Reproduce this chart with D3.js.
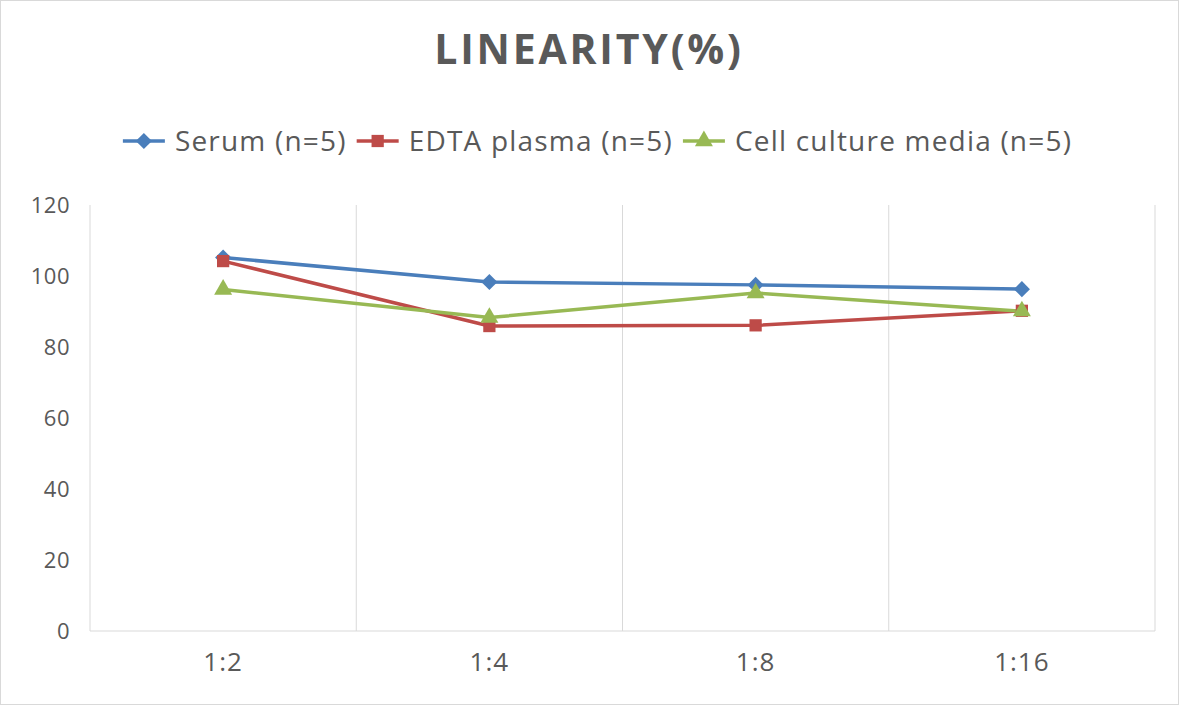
<!DOCTYPE html>
<html><head><meta charset="utf-8">
<script src="https://cdn.jsdelivr.net/npm/d3@7"></script>
<style>body{margin:0;background:#fff}svg{display:block}text{font-family:"Open Sans","Noto Sans",sans-serif}</style>
</head><body>
<svg id="c" width="1179" height="705"></svg>
<script>
const categories = ["1:2","1:4","1:8","1:16"];
const serum = [105.2, 98.3, 97.5, 96.3];
const edta = [104.2, 85.9, 86.1, 90.2];
const cellCulture = [96.2, 88.3, 95.2, 90.1];
const seriesNames = ["Serum (n=5)","EDTA plasma (n=5)","Cell culture media (n=5)"];
const yTicks = [0,20,40,60,80,100,120];

const svg = d3.select("#c");
const W=1179,H=705;
const m={l:90,r:1155,t:205,b:631};
svg.append("rect").attr("x",0.5).attr("y",0.5).attr("width",W-1).attr("height",H-1).attr("fill","#fff").attr("stroke","#d9d9d9");

const x = d3.scaleBand().domain(categories).range([m.l,m.r]);
const y = d3.scaleLinear().domain([0,120]).range([m.b,m.t]);

const bounds = categories.map(c=>x(c)).concat([m.r]);
svg.append("g").selectAll("line").data(bounds).join("line")
 .attr("x1",d=>d).attr("x2",d=>d).attr("y1",m.t).attr("y2",m.b)
 .attr("stroke","#d9d9d9").attr("stroke-width",1);
svg.append("line").attr("x1",m.l).attr("x2",m.r).attr("y1",m.b).attr("y2",m.b).attr("stroke","#d9d9d9");

const ya = d3.axisLeft(y).tickValues(yTicks).tickSize(0).tickPadding(20);
const gy = svg.append("g").attr("transform",`translate(${m.l},0)`).call(ya);
gy.select(".domain").remove();
gy.selectAll("text").attr("font-size",22).attr("fill","#595959").attr("letter-spacing",0.5);

const xa = d3.axisBottom(x).tickSize(0).tickPadding(22);
const gx = svg.append("g").attr("transform",`translate(0,${m.b})`).call(xa);
gx.select(".domain").remove();
gx.selectAll("text").attr("font-size",26).attr("fill","#595959").attr("letter-spacing",1);

svg.append("text").attr("x",589).attr("y",64).attr("text-anchor","middle")
 .attr("font-size",41).attr("font-weight","bold").attr("fill","#595959").attr("letter-spacing",2.8).text("LINEARITY(%)");

const colors = ["#4a7ebb","#be4b48","#98b954"];
const data = [serum, edta, cellCulture];
const diamond = { draw(ctx, size){ const r=Math.sqrt(size/2); ctx.moveTo(0,-r); ctx.lineTo(r,0); ctx.lineTo(0,r); ctx.lineTo(-r,0); ctx.closePath(); } };
const symbols = [diamond, d3.symbolSquare, d3.symbolTriangle];
const sizes = [130, 150, 140];

const line = d3.line().x((d,i)=>x(categories[i])+x.bandwidth()/2).y(d=>y(d));
data.forEach((s,k)=>{
  svg.append("path").datum(s).attr("d",line).attr("fill","none")
   .attr("stroke",colors[k]).attr("stroke-width",3.5).attr("stroke-linejoin","round");
});
data.forEach((s,k)=>{
  svg.append("g").selectAll("path").data(s).join("path")
   .attr("transform",(d,i)=>`translate(${x(categories[i])+x.bandwidth()/2},${y(d)})`)
   .attr("d",d3.symbol().type(symbols[k]).size(sizes[k])).attr("fill",colors[k]);
});

const lg = svg.append("g");
let lx = 0;
seriesNames.forEach((n,k)=>{
  const g = lg.append("g").attr("transform",`translate(${lx},0)`);
  g.append("line").attr("x1",0).attr("x2",42).attr("y1",0).attr("y2",0).attr("stroke",colors[k]).attr("stroke-width",3.5);
  g.append("path").attr("transform","translate(21,0)").attr("d",d3.symbol().type(symbols[k]).size(sizes[k])).attr("fill",colors[k]);
  const t = g.append("text").attr("x",52).attr("y",10).attr("font-size",28).attr("letter-spacing",1.2).attr("fill","#595959").text(n);
  lx += 52 + t.node().getComputedTextLength() + 10;
});
const totalW = lx-10;
lg.attr("transform",`translate(${(123+1072)/2 - totalW/2},141)`);
</script>
</body></html>
